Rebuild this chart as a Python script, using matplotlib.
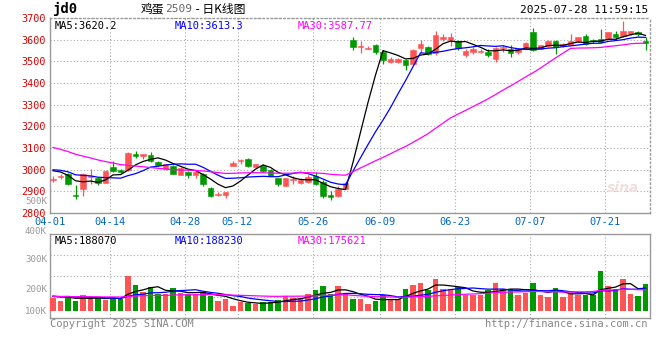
import numpy as np
import pandas as pd
import matplotlib
matplotlib.use("Agg")
import matplotlib.pyplot as plt
from matplotlib.transforms import ScaledTranslation

# ---- data ----
dates = ["04-01", "04-02", "04-03", "04-07", "04-08", "04-09", "04-10", "04-11", "04-14", "04-15",
         "04-16", "04-17", "04-18", "04-21", "04-22", "04-23", "04-24", "04-25", "04-28", "04-29",
         "04-30", "05-06", "05-07", "05-08", "05-09", "05-12", "05-13", "05-14", "05-15", "05-16",
         "05-19", "05-20", "05-21", "05-22", "05-23", "05-26", "05-27", "05-28", "05-29", "05-30",
         "06-03", "06-04", "06-05", "06-06", "06-09", "06-10", "06-11", "06-12", "06-13", "06-16",
         "06-17", "06-18", "06-19", "06-20", "06-23", "06-24", "06-25", "06-26", "06-27", "06-30",
         "07-01", "07-02", "07-03", "07-04", "07-07", "07-08", "07-09", "07-10", "07-11", "07-14",
         "07-15", "07-16", "07-17", "07-18", "07-21", "07-22", "07-23", "07-24", "07-25", "07-28"]

opens = [2952, 2965, 2981, 2882, 2909, 2965, 2960, 2939, 3014, 3000,
         2999, 3072, 3061, 3068, 3034, 3002, 3019, 2977, 2991, 2976,
         2981, 2915, 2881, 2884, 3016, 3039, 3050, 3014, 3019, 2999,
         2960, 2924, 2950, 2939, 2945, 2973, 2942, 2881, 2878, 2912,
         3597, 3568, 3559, 3574, 3543, 3497, 3497, 3506, 3488, 3560,
         3566, 3538, 3602, 3598, 3592, 3527, 3542, 3544, 3543, 3510,
         3560, 3558, 3541, 3568, 3635, 3559, 3570, 3595, 3569, 3577,
         3592, 3615, 3600, 3603, 3607, 3628, 3618, 3626, 3635, 3594]
highs = [2973, 2981, 2986, 2930, 2986, 3005, 2965, 2998, 3038, 3005,
         3083, 3088, 3072, 3082, 3040, 3028, 3022, 3010, 2993, 3000,
         2986, 2922, 2897, 2898, 3040, 3048, 3052, 3027, 3025, 3002,
         2962, 2962, 2970, 2960, 2975, 2990, 2950, 2900, 2925, 2942,
         3612, 3592, 3572, 3582, 3551, 3520, 3515, 3512, 3556, 3600,
         3570, 3640, 3625, 3633, 3597, 3555, 3568, 3555, 3555, 3565,
         3575, 3577, 3562, 3590, 3656, 3576, 3598, 3600, 3583, 3626,
         3612, 3625, 3605, 3647, 3636, 3640, 3688, 3642, 3642, 3612]
lows = [2942, 2958, 2930, 2865, 2880, 2936, 2930, 2939, 2987, 2983,
        2995, 3056, 3050, 3036, 3015, 3000, 2979, 2975, 2962, 2962,
        2925, 2875, 2878, 2868, 3015, 3027, 3013, 3010, 2987, 2970,
        2925, 2924, 2936, 2933, 2940, 2928, 2870, 2859, 2875, 2910,
        3550, 3540, 3555, 3535, 3487, 3490, 3492, 3458, 3486, 3540,
        3530, 3530, 3595, 3570, 3552, 3520, 3532, 3537, 3520, 3497,
        3545, 3520, 3536, 3555, 3546, 3556, 3568, 3533, 3565, 3574,
        3590, 3577, 3585, 3583, 3604, 3600, 3610, 3620, 3618, 3550]
closes = [2956, 2970, 2935, 2878, 2981, 2973, 2939, 2993, 2993, 2988,
          3075, 3061, 3072, 3042, 3022, 3025, 2981, 3008, 2976, 2991,
          2932, 2877, 2889, 2896, 3030, 3046, 3015, 3025, 2993, 2973,
          2932, 2960, 2955, 2953, 2965, 2935, 2878, 2876, 2912, 2939,
          3565, 3572, 3563, 3543, 3505, 3512, 3513, 3484, 3554, 3581,
          3536, 3622, 3614, 3614, 3561, 3546, 3557, 3547, 3531, 3562,
          3567, 3537, 3559, 3583, 3554, 3574, 3594, 3567, 3580, 3595,
          3610, 3582, 3592, 3588, 3636, 3612, 3638, 3638, 3625, 3585]
# volume in thousands of lots
volumes = [150, 138, 154, 138, 160, 145, 148, 142, 150, 145,
           230, 198, 173, 191, 163, 163, 187, 167, 163, 164,
           170, 158, 138, 145, 119, 133, 129, 126, 133, 133,
           142, 158, 148, 148, 164, 179, 194, 163, 194, 167,
           145, 145, 126, 138, 160, 145, 145, 183, 198, 206,
           179, 221, 183, 183, 189, 160, 160, 160, 179, 206,
           183, 183, 160, 167, 206, 160, 154, 187, 154, 167,
           160, 160, 160, 251, 194, 183, 221, 164, 157, 202]

# sessions before 04-01 (not drawn), estimated so the moving averages start where the chart shows
prior_closes = [3230, 3245, 3250, 3240, 3225, 3215, 3220, 3200, 3190, 3180,
                3170, 3165, 3150, 3130, 3110, 3080, 3050, 3020, 3010, 3000,
                2995, 3005, 3015, 3010, 2995, 3000, 3010, 3005, 3005]
prior_volumes = [150, 158, 162, 148, 155, 160, 152, 149, 157, 163,
                 151, 146, 155, 160, 158, 150, 147, 153, 161, 156,
                 150, 148, 159, 162, 155, 152, 157, 160, 158]

date_ticks = ["04-01", "04-14", "04-28", "05-12", "05-26", "06-09", "06-23", "07-07", "07-21"]
price_ticks = [2800, 2900, 3000, 3100, 3200, 3300, 3400, 3500, 3600, 3700]

RED = "#ff5454"
GREEN = "#009900"
GRID = "#aaaaaa"
MONO = "DejaVu Sans Mono"
CJK = ["Noto Sans CJK SC", "DejaVu Sans"]


def moving_avg(prior, values, n):
    s = pd.Series(list(prior) + list(values), dtype=float)
    return s.rolling(n).mean().to_numpy()[len(prior):]


x = np.arange(len(dates))
o = np.array(opens, float)
c = np.array(closes, float)
h = np.array(highs, float)
l = np.array(lows, float)
v = np.array(volumes, float)
up = c >= o
colors = np.where(up, RED, GREEN)

fig = plt.figure(figsize=(6.6, 3.6), dpi=100)
fig.patch.set_facecolor("white")

W, H = 660.0, 360.0
ax = fig.add_axes([50 / W, 1 - 213 / H, 600 / W, 195 / H])
axv = fig.add_axes([50 / W, 1 - 318 / H, 600 / W, 84 / H])

xlim = (-0.4, len(dates) - 0.4)
tick_idx = [dates.index(d) for d in date_ticks]

# ---- price panel ----
ax.vlines(x, l, h, colors=colors, linewidth=0.9, zorder=3)
body = np.maximum(np.abs(c - o), 1.5)
ax.bar(x, body, bottom=np.minimum(o, c), width=0.68, color=colors,
       edgecolor=colors, linewidth=0.4, zorder=4)

ma_lines = [(5, "black"), (10, "#0000ff"), (30, "#ff00ff")]
for n, col in ma_lines:
    ax.plot(x, moving_avg(prior_closes, c, n), color=col, linewidth=0.9, zorder=5)

ax.set_xlim(*xlim)
ax.set_ylim(2800, 3700)
ax.set_yticks(price_ticks)
ax.set_yticklabels([str(t) for t in price_ticks], color="#dd0000", family=MONO, fontsize=7.3)
# Sina draws the price labels slightly above their grid line
lift = ScaledTranslation(0, 1.8 / 72, fig.dpi_scale_trans)
for lbl in ax.get_yticklabels():
    lbl.set_transform(lbl.get_transform() + lift)
ax.set_xticks([i - 0.4 for i in tick_idx])
ax.set_xticklabels(date_ticks, color="#0066cc", family=MONO, fontsize=7.5)
ax.tick_params(length=0, pad=3)
ax.grid(True, color=GRID, linestyle=(0, (1, 2)), linewidth=0.8)
ax.set_axisbelow(True)
for sp in ax.spines.values():
    sp.set_color("#999999")
    sp.set_linewidth(1)
ax.spines["top"].set_linestyle((0, (1, 2)))
ax.spines["right"].set_linestyle((0, (1, 2)))

ax.text(0.008, 0.985, "MA5:3620.2", transform=ax.transAxes, ha="left", va="top",
        family=MONO, fontsize=7.5, color="black")
ax.text(0.207, 0.985, "MA10:3613.3", transform=ax.transAxes, ha="left", va="top",
        family=MONO, fontsize=7.5, color="#0000ff")
ax.text(0.413, 0.985, "MA30:3587.77", transform=ax.transAxes, ha="left", va="top",
        family=MONO, fontsize=7.5, color="#ff00ff")
ax.text(0.955, 0.13, "sina", transform=ax.transAxes, ha="center", va="center",
        fontsize=10, style="italic", fontweight="bold", color="#f3dede", zorder=1)

# ---- volume panel ----
vol_base = 100
axv.bar(x, v - vol_base, bottom=vol_base, width=0.75, color=colors, linewidth=0, zorder=3)
for n, col in ma_lines:
    axv.plot(x, moving_avg(prior_volumes, v, n), color=col, linewidth=0.9, zorder=5)
axv.set_xlim(*xlim)
axv.set_ylim(73.6, 389)
axv.set_xticks([i - 0.4 for i in tick_idx])
axv.set_xticklabels([])
vlo, vhi = axv.get_ylim()
axv.set_yticks([vlo + (vhi - vlo) * k / 4 for k in (1, 2, 3)])
axv.set_yticklabels([])
axv.tick_params(length=0)
axv.grid(True, color=GRID, linestyle=(0, (1, 2)), linewidth=0.8)
axv.set_axisbelow(True)
for sp in axv.spines.values():
    sp.set_color("#999999")
    sp.set_linewidth(1)

axv.text(0.008, 0.98, "MA5:188070", transform=axv.transAxes, ha="left", va="top",
         family=MONO, fontsize=7.5, color="black")
axv.text(0.207, 0.98, "MA10:188230", transform=axv.transAxes, ha="left", va="top",
         family=MONO, fontsize=7.5, color="#0000ff")
axv.text(0.413, 0.98, "MA30:175621", transform=axv.transAxes, ha="left", va="top",
         family=MONO, fontsize=7.5, color="#ff00ff")

# volume scale labels as Sina places them (the upper two sit beside the price panel)
for lab, ypx in [("500K", 201), ("400K", 231), ("300K", 260), ("200K", 290), ("100K", 311)]:
    fig.text(47 / W, 1 - ypx / H, lab, ha="right", va="center", family=MONO,
             fontsize=6.6, color="#999999")

# ---- header / footer ----
fig.text(52 / W, 1 - 9 / H, "jd0", ha="left", va="center", family=MONO,
         fontsize=10, fontweight="bold", color="black")
t1 = fig.text(141 / W, 1 - 9 / H, "鸡蛋", ha="left", va="center",
              family=CJK, fontsize=8.5, color="black")
t2 = ax.annotate("2509", xy=(1, 0.5), xycoords=t1, xytext=(0.5, 0), textcoords="offset points",
                 ha="left", va="center", family=MONO, fontsize=8, color="#666666")
ax.annotate(" - 日K线图", xy=(1, 0.5), xycoords=t2, xytext=(0.5, 0), textcoords="offset points",
            ha="left", va="center", family=CJK, fontsize=8.5, color="black")
fig.text(648 / W, 1 - 10 / H, "2025-07-28 11:59:15", ha="right", va="center",
         family=MONO, fontsize=8, color="black")
fig.text(50 / W, 1 - 324 / H, "Copyright 2025 SINA.COM", ha="left", va="center",
         family=MONO, fontsize=7.5, color="#888888")
fig.text(648 / W, 1 - 324 / H, "http://finance.sina.com.cn", ha="right", va="center",
         family=MONO, fontsize=7.5, color="#888888")

fig.savefig("out.png", dpi=100, facecolor="white")
